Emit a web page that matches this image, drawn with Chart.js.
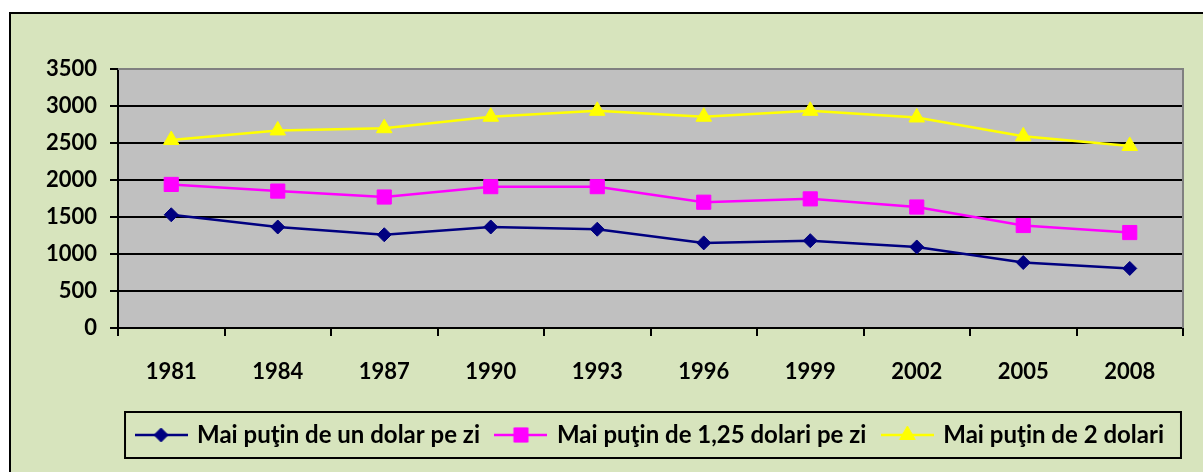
<!DOCTYPE html>
<html>
<head>
<meta charset="utf-8">
<script src="https://cdn.jsdelivr.net/npm/chart.js@4.4.0/dist/chart.umd.min.js"></script>
<style>
    body { margin: 0; background: #fff; overflow: hidden; }
    .frame {
        position: absolute; left: 9px; top: 12px;
        width: 1300px; height: 600px;
        border: 2px solid #000; background: #D7E4BD;
    }
    .wrap { position: absolute; left: 0; top: 0; width: 1203px; height: 472px; }
</style>
</head>
<body>
<div class="frame"></div>
<div class="wrap"><canvas id="povertyChart" width="1203" height="472"></canvas></div>
<script>
const years = ["1981", "1984", "1987", "1990", "1993", "1996", "1999", "2002", "2005", "2008"];
const seriesNames = ["Mai puţin de un dolar pe zi", "Mai puţin de 1,25 dolari pe zi", "Mai puţin de 2 dolari"];
const underOne = [1530, 1365, 1260, 1365, 1335, 1150, 1180, 1095, 885, 805];
const underOne25 = [1940, 1850, 1770, 1910, 1910, 1700, 1745, 1635, 1385, 1290];
const underTwo = [2540, 2670, 2700, 2855, 2935, 2855, 2935, 2845, 2590, 2460];
const yTicks = [0, 500, 1000, 1500, 2000, 2500, 3000, 3500];

const TICK_FONT = { family: "Lato", weight: "bold", size: 22 };
const LEGEND_FONT = { family: "Lato", weight: "bold", size: 24 };

function makeDataset(label, values, color, style, radius) {
    return {
        label: label,
        data: values,
        borderColor: color,
        backgroundColor: color,
        borderWidth: 2.5,
        pointStyle: style,
        pointRadius: radius,
        pointHoverRadius: radius,
        pointBackgroundColor: color,
        pointBorderColor: color,
        pointBorderWidth: 1,
        tension: 0
    };
}

// legend icon: line segment with the marker in the middle
function legendIcon(ds) {
    const c = document.createElement('canvas');
    c.width = 53;
    c.height = 20;
    const g = c.getContext('2d');
    g.strokeStyle = ds.borderColor;
    g.lineWidth = 2.5;
    g.beginPath();
    g.moveTo(0, 10);
    g.lineTo(53, 10);
    g.stroke();
    g.fillStyle = ds.pointBackgroundColor;
    g.strokeStyle = ds.pointBorderColor;
    g.lineWidth = 1;
    Chart.helpers.drawPoint(g, { pointStyle: ds.pointStyle, radius: ds.pointRadius, rotation: 0, borderWidth: 1 }, 26.5, 10);
    return c;
}

const plotBackground = {
    id: 'plotBackground',
    beforeDraw(chart) {
        const { ctx, chartArea } = chart;
        ctx.save();
        ctx.fillStyle = '#C0C0C0';
        ctx.fillRect(chartArea.left, chartArea.top, chartArea.right - chartArea.left, chartArea.bottom - chartArea.top);
        ctx.restore();
    },
    beforeDatasetsDraw(chart) {
        const { ctx, chartArea } = chart;
        ctx.save();
        ctx.strokeStyle = '#808080';
        ctx.lineWidth = 2;
        ctx.beginPath();
        ctx.moveTo(chartArea.left, chartArea.top);
        ctx.lineTo(chartArea.right, chartArea.top);
        ctx.lineTo(chartArea.right, chartArea.bottom);
        ctx.stroke();
        ctx.restore();
    },
    afterDraw(chart) {
        const boxes = chart.legend.legendHitBoxes;
        if (!boxes || !boxes.length) return;
        const first = boxes[0];
        const last = boxes[boxes.length - 1];
        const cy = first.top + first.height / 2;
        const ctx = chart.ctx;
        ctx.save();
        ctx.strokeStyle = '#000';
        ctx.lineWidth = 2;
        ctx.strokeRect(first.left - 12, cy - 23, last.left + last.width + 17 - (first.left - 12), 46);
        ctx.restore();
    }
};

const datasets = [
    makeDataset(seriesNames[0], underOne, '#000080', 'rectRot', 7),
    makeDataset(seriesNames[1], underOne25, '#FF00FF', 'rect', 10),
    makeDataset(seriesNames[2], underTwo, '#FFFF00', 'triangle', 9)
];

new Chart(document.getElementById('povertyChart'), {
    type: 'line',
    data: { labels: years, datasets: datasets },
    options: {
        responsive: false,
        animation: false,
        layout: { padding: { left: 40, right: 20, top: 69, bottom: 15 } },
        plugins: {
            tooltip: { enabled: false },
            legend: {
                position: 'bottom',
                align: 'center',
                fullSize: false,
                labels: {
                    usePointStyle: true,
                    pointStyleWidth: 48,
                    padding: 17,
                    color: '#000',
                    font: LEGEND_FONT,
                    generateLabels(chart) {
                        const items = Chart.defaults.plugins.legend.labels.generateLabels(chart);
                        items.forEach((it, i) => { it.pointStyle = legendIcon(chart.data.datasets[i]); });
                        return items;
                    }
                }
            }
        },
        scales: {
            x: {
                offset: true,
                afterFit(scale) { scale.height = 78; },
                border: { color: '#000', width: 2 },
                grid: { offset: true, drawOnChartArea: false, color: '#000', lineWidth: 2, tickLength: 8 },
                ticks: { color: '#000', font: TICK_FONT, padding: 23, maxRotation: 0 }
            },
            y: {
                min: 0,
                max: 3500,
                afterFit(scale) { scale.width = 78; },
                afterBuildTicks(scale) { scale.ticks = yTicks.map(v => ({ value: v })); },
                border: { color: '#000', width: 2 },
                grid: {
                    color: (c) => c.tick && c.tick.value === 3500 ? '#808080' : '#000',
                    tickColor: '#000',
                    lineWidth: 2,
                    tickLength: 8
                },
                ticks: { color: '#000', font: TICK_FONT, padding: 13, callback: (v) => String(v) }
            }
        }
    },
    plugins: [plotBackground]
});
</script>
</body>
</html>
